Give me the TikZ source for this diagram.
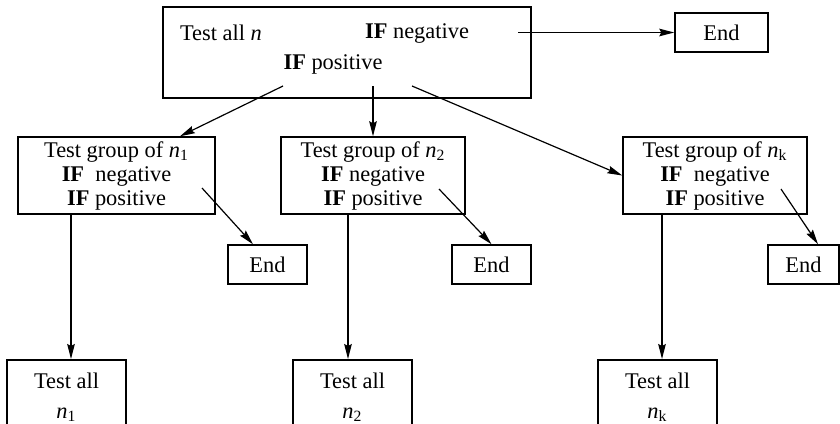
\documentclass[tikz,border=0pt]{standalone}
\usepackage{fontspec}
\setmainfont{Liberation Serif}
\usetikzlibrary{positioning,arrows.meta,calc}

\begin{document}
\begin{tikzpicture}[x=0.5pt, y=-0.5pt,
    box/.style={rectangle, draw, line width=0.75pt, inner sep=0pt, align=center, font=\fontsize{11.2}{12}\selectfont},
    endBox/.style={box, minimum width=39.5pt, minimum height=19.5pt},
    groupBox/.style={box, minimum width=92pt, minimum height=38.5pt},
    allBox/.style={box, anchor=north, minimum width=59.5pt, inner ysep=6.5pt, text depth=30pt},
    txt/.style={inner sep=0pt, font=\fontsize{11.2}{12}\selectfont},
    arr/.style={-{Stealth[length=7.5pt,width=3.8pt,inset=1pt]}, line width=0.6pt}
]
    \useasboundingbox (0,0) rectangle (840,423);

    % first test over all n
    \node[box, minimum width=184pt, minimum height=45.5pt] (top) at (347,52.5) {};
    \node[txt] (topAll) at (221,33) {Test all \textit{n}};
    \node[txt] (topNeg) at (417,34) {\textbf{IF} negative};
    \node[txt] (topPos) at (333,64) {\textbf{IF} positive};
    \node[endBox, minimum width=46.5pt] (endTop) at (721.5,32.5) {End};

    \coordinate (negOut) at (518,32.5);
    \draw[arr] (negOut) -- (endTop.west);

    % group tests
    \node[groupBox, minimum width=98.5pt] (grp1) at (116.5,175.5) {Test group of \textit{n}\textsubscript{1}\\\textbf{IF}\ \ negative\\\textbf{IF} positive};
    \node[groupBox] (grp2) at (373,175.5) {Test group of \textit{n}\textsubscript{2}\\\textbf{IF} negative\\\textbf{IF} positive};
    \node[groupBox] (grpK) at (715,175.5) {Test group of \textit{n}\textsubscript{k}\\\textbf{IF}\ \ negative\\\textbf{IF} positive};

    \coordinate (posL) at (283,86);
    \coordinate (posM) at (373,86);
    \coordinate (posR) at (412,86);
    \draw[arr] (posL) -- ($(grp1.north)+(63.5,0)$);
    \draw[arr] (posM) -- (grp2.north);
    \draw[arr] (posR) -- (grpK.west);

    % negative groups end
    \node[endBox] (end1) at (267.5,264.5) {End};
    \node[endBox] (end2) at (491.5,264.5) {End};
    \node[endBox, minimum width=35.5pt] (endK) at (803.5,264.5) {End};

    \coordinate (neg1) at (202,188);
    \coordinate (neg2) at (439,189);
    \coordinate (negK) at (781,189);
    \draw[arr] (neg1) -- ($(end1.north)+(-14.5,0)$);
    \draw[arr] (neg2) -- (end2.north);
    \draw[arr] (negK) -- ($(endK.north)+(14.5,0)$);

    % positive groups tested one by one
    \node[allBox] (all1) at (66.5,359) {Test all\\[3pt]\textit{n}\textsubscript{1}};
    \node[allBox] (all2) at (352.5,359) {Test all\\[3pt]\textit{n}\textsubscript{2}};
    \node[allBox] (allK) at (657.5,359) {Test all\\[3pt]\textit{n}\textsubscript{k}};

    \coordinate (in1) at ($(all1.north)+(4.5,0)$);
    \coordinate (in2) at ($(all2.north)+(-4.5,0)$);
    \coordinate (inK) at ($(allK.north)+(4.5,0)$);
    \draw[arr] (grp1.south -| in1) -- (in1);
    \draw[arr] (grp2.south -| in2) -- (in2);
    \draw[arr] (grpK.south -| inK) -- (inK);
\end{tikzpicture}
\end{document}
